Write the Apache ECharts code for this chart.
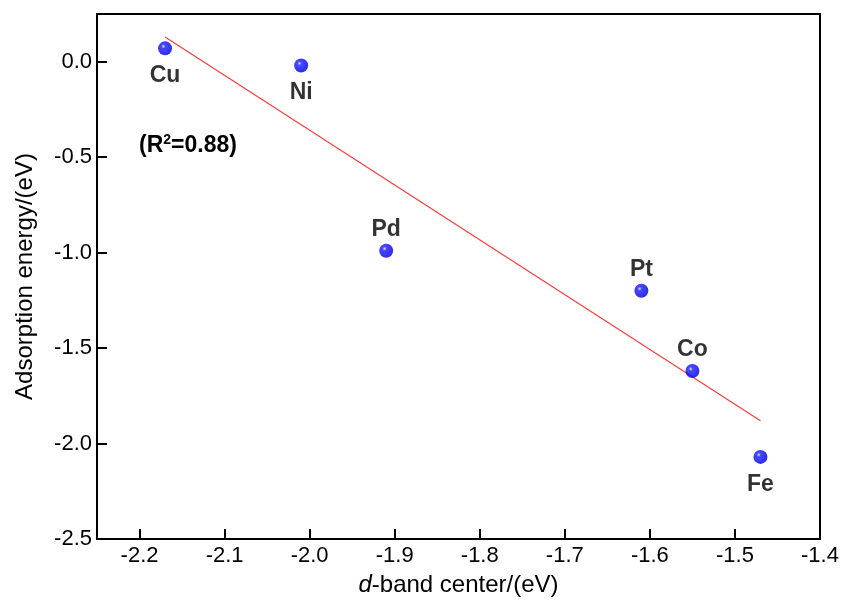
<!DOCTYPE html>
<html>
<head>
<meta charset="utf-8">
<script src="https://cdn.jsdelivr.net/npm/echarts@6/dist/echarts.min.js"></script>
<style>
  html, body { margin: 0; padding: 0; background: #fff; }
  #chart { width: 846px; height: 602px; }
</style>
</head>
<body>
<div id="chart"></div>
<script>
// metals and their d-band center / adsorption energy
const metals = ['Cu', 'Ni', 'Pd', 'Pt', 'Co', 'Fe'];
const dBand = [-2.17, -2.01, -1.91, -1.61, -1.55, -1.47];
const adsEnergy = [0.07, -0.02, -0.99, -1.20, -1.62, -2.07];
const labelSide = ['bottom', 'bottom', 'top', 'top', 'top', 'bottom'];

// linear fit end points
const fitX = [-2.17, -1.47];
const fitY = [0.13, -1.88];

// tick positions
const xTicks = [-2.2, -2.1, -2.0, -1.9, -1.8, -1.7, -1.6, -1.5, -1.4];
const yTicks = [-2.5, -2.0, -1.5, -1.0, -0.5, 0.0];

const font = 'Liberation Sans, Arial, sans-serif';

const chart = echarts.init(document.getElementById('chart'));

const ball = {
  type: 'radial', x: 0.38, y: 0.35, r: 0.7,
  colorStops: [
    { offset: 0, color: '#e8e8ff' },
    { offset: 0.2, color: '#1c1cff' },
    { offset: 0.7, color: '#0000f4' },
    { offset: 1, color: '#0000b4' }
  ]
};

chart.setOption({
  animation: false,
  grid: {
    left: 97, right: 26, top: 14, bottom: 62,
    show: true, borderColor: '#000', borderWidth: 2, backgroundColor: 'transparent'
  },
  xAxis: {
    type: 'value',
    min: -2.25, max: -1.4,
    name: '{i|d}-band center/(eV)',
    nameLocation: 'middle',
    nameGap: 34,
    nameTextStyle: {
      fontFamily: font, fontSize: 24, color: '#000',
      rich: { i: { fontFamily: font, fontSize: 24, fontStyle: 'italic', color: '#000' } }
    },
    splitLine: { show: false },
    axisLine: { onZero: false, lineStyle: { color: '#000', width: 2 } },
    axisTick: { inside: true, length: 10, customValues: xTicks, lineStyle: { color: '#000', width: 2 } },
    axisLabel: {
      customValues: xTicks,
      fontFamily: font, fontSize: 22, color: '#000', margin: 6,
      formatter: v => v.toFixed(1)
    }
  },
  yAxis: {
    type: 'value',
    min: -2.5, max: 0.25,
    name: 'Adsorption energy/(eV)',
    nameLocation: 'middle',
    nameGap: 60,
    nameTextStyle: { fontFamily: font, fontSize: 24, color: '#000' },
    splitLine: { show: false },
    axisLine: { onZero: false, lineStyle: { color: '#000', width: 2 } },
    axisTick: { inside: true, length: 10, customValues: yTicks, lineStyle: { color: '#000', width: 2 } },
    axisLabel: {
      customValues: yTicks,
      fontFamily: font, fontSize: 22, color: '#000', margin: 5,
      formatter: v => v.toFixed(1)
    }
  },
  graphic: [{
    type: 'text',
    left: 139, top: 133,
    style: {
      text: '(R{s|2}=0.88)',
      font: 'bold 23px ' + font,
      fill: '#000',
      rich: { s: { font: 'bold 14px ' + font, fill: '#000', verticalAlign: 'top', padding: [0, 0, 12, 0] } }
    }
  }],
  series: [
    {
      type: 'line',
      data: fitX.map((x, i) => [x, fitY[i]]),
      symbol: 'none',
      lineStyle: { color: '#ff3b3b', width: 1.2 },
      z: 1
    },
    {
      type: 'scatter',
      data: dBand.map((x, i) => ({
        value: [x, adsEnergy[i]],
        name: metals[i],
        label: { position: labelSide[i], distance: labelSide[i] === 'bottom' ? 9 : 3 }
      })),
      symbolSize: 14,
      itemStyle: { color: ball },
      label: {
        show: true,
        formatter: p => p.name,
        fontFamily: font, fontSize: 23, fontWeight: 'bold', color: '#000'
      },
      z: 2
    }
  ]
});
</script>
</body>
</html>
